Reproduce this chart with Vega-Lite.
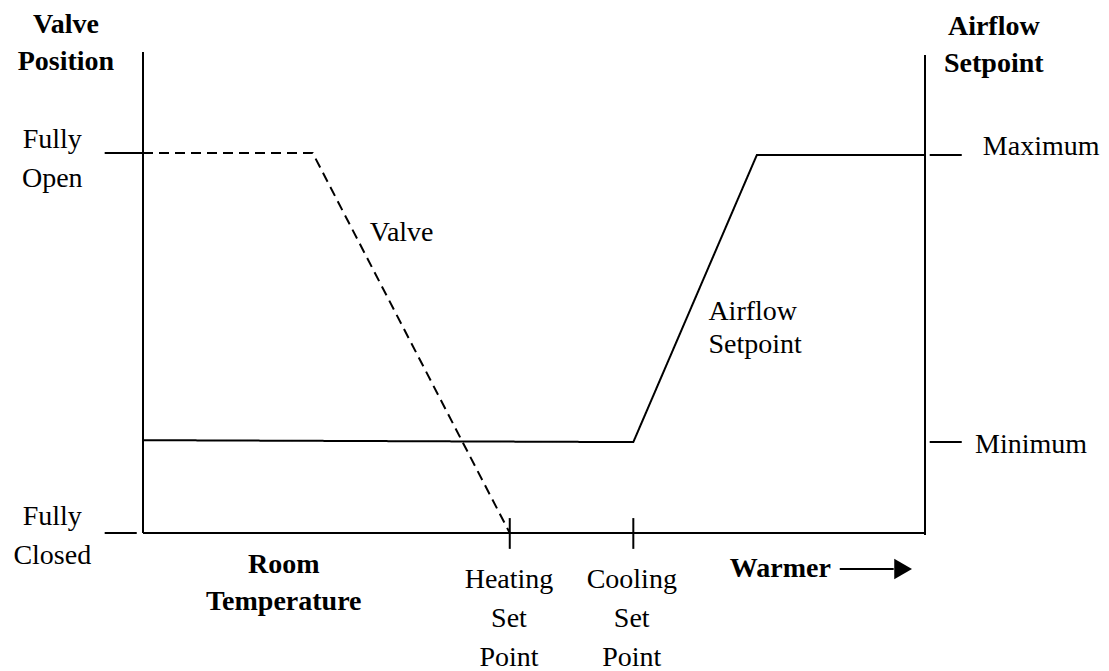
{
  "$schema": "https://vega.github.io/schema/vega-lite/v6.json",
  "width": 782,
  "height": 481,
  "autosize": {"type": "none"},
  "padding": {"left": 143, "top": 52, "right": 184, "bottom": 138},
  "background": "white",
  "config": {"view": {"stroke": null}},
  "datasets": {
    "rules": [
      {"part": "left axis", "x": 0, "y": 0, "x2": 0, "y2": 100},
      {"part": "right axis", "x": 100, "y": -0.4, "x2": 100, "y2": 99.4},
      {"part": "bottom axis", "x": 0, "y": 0, "x2": 100, "y2": 0},
      {"part": "fully open tick", "x": -4.9, "y": 79, "x2": 0, "y2": 79},
      {"part": "fully closed tick", "x": -4.9, "y": 0, "x2": -0.8, "y2": 0},
      {"part": "maximum tick", "x": 100.6, "y": 78.6, "x2": 104.7, "y2": 78.6},
      {"part": "minimum tick", "x": 100.6, "y": 18.9, "x2": 104.7, "y2": 18.9},
      {"part": "heating set point tick", "x": 46.9, "y": 3.1, "x2": 46.9, "y2": -3.3},
      {"part": "cooling set point tick", "x": 62.7, "y": 3.1, "x2": 62.7, "y2": -3.3},
      {"part": "warmer arrow", "x": 89.1, "y": -7.5, "x2": 96.0, "y2": -7.5}
    ],
    "curves": [
      {"series": "Valve", "order": 1, "temp": 0, "value": 79},
      {"series": "Valve", "order": 2, "temp": 21.7, "value": 79},
      {"series": "Valve", "order": 3, "temp": 46.9, "value": 0},
      {"series": "Airflow", "order": 1, "temp": 0, "value": 19.3},
      {"series": "Airflow", "order": 2, "temp": 62.7, "value": 18.9},
      {"series": "Airflow", "order": 3, "temp": 78.5, "value": 78.6},
      {"series": "Airflow", "order": 4, "temp": 100, "value": 78.6}
    ],
    "boldLabels": [
      {"label": "Valve\nPosition", "x": -9.85, "y": 105.6},
      {"label": "Airflow\nSetpoint", "x": 108.8, "y": 105.2},
      {"label": "Room\nTemperature", "x": 18.0, "y": -6.65},
      {"label": "Warmer", "x": 81.5, "y": -7.4}
    ],
    "centerLabels": [
      {"label": "Fully\nOpen", "x": -11.6, "y": 81.7},
      {"label": "Fully\nClosed", "x": -11.6, "y": 3.3},
      {"label": "Heating\nSet\nPoint", "x": 46.8, "y": -9.8},
      {"label": "Cooling\nSet\nPoint", "x": 62.5, "y": -9.8}
    ],
    "leftLabels": [
      {"label": "Maximum", "x": 107.4, "y": 80.2},
      {"label": "Minimum", "x": 106.4, "y": 18.2},
      {"label": "Valve", "x": 29.0, "y": 62.4},
      {"label": "Airflow\nSetpoint", "x": 72.3, "y": 45.9}
    ],
    "arrowhead": [
      {"x": 97.2, "y": -7.5}
    ]
  },
  "layer": [
    {
      "data": {"name": "rules"},
      "mark": {"type": "rule", "color": "black", "strokeWidth": 2, "clip": false},
      "encoding": {
        "x": {"field": "x", "type": "quantitative", "scale": {"domain": [0, 100], "nice": false, "zero": false}, "axis": null},
        "y": {"field": "y", "type": "quantitative", "scale": {"domain": [0, 100], "nice": false, "zero": false}, "axis": null},
        "x2": {"field": "x2"},
        "y2": {"field": "y2"}
      }
    },
    {
      "data": {"name": "curves"},
      "mark": {"type": "line", "color": "black", "strokeWidth": 2, "clip": false},
      "encoding": {
        "x": {"field": "temp", "type": "quantitative", "axis": null},
        "y": {"field": "value", "type": "quantitative", "axis": null},
        "detail": {"field": "series"},
        "order": {"field": "order"},
        "strokeDash": {"field": "series", "type": "nominal", "scale": {"domain": ["Valve", "Airflow"], "range": [[10, 6], [1, 0]]}, "legend": null}
      }
    },
    {
      "data": {"name": "arrowhead"},
      "mark": {"type": "point", "shape": "triangle-right", "filled": true, "color": "black", "opacity": 1, "size": 420, "clip": false},
      "encoding": {
        "x": {"field": "x", "type": "quantitative", "axis": null},
        "y": {"field": "y", "type": "quantitative", "axis": null}
      }
    },
    {
      "data": {"name": "boldLabels"},
      "mark": {"type": "text", "font": "Liberation Serif", "fontSize": 28, "fontWeight": "bold", "align": "center", "baseline": "middle", "lineBreak": "\n", "lineHeight": 37, "color": "black", "clip": false},
      "encoding": {
        "x": {"field": "x", "type": "quantitative", "axis": null},
        "y": {"field": "y", "type": "quantitative", "axis": null},
        "text": {"field": "label"}
      }
    },
    {
      "data": {"name": "centerLabels"},
      "mark": {"type": "text", "font": "Liberation Serif", "fontSize": 28, "align": "center", "baseline": "middle", "lineBreak": "\n", "lineHeight": 39, "color": "black", "clip": false},
      "encoding": {
        "x": {"field": "x", "type": "quantitative", "axis": null},
        "y": {"field": "y", "type": "quantitative", "axis": null},
        "text": {"field": "label"}
      }
    },
    {
      "data": {"name": "leftLabels"},
      "mark": {"type": "text", "font": "Liberation Serif", "fontSize": 28, "align": "left", "baseline": "middle", "lineBreak": "\n", "lineHeight": 33, "color": "black", "clip": false},
      "encoding": {
        "x": {"field": "x", "type": "quantitative", "axis": null},
        "y": {"field": "y", "type": "quantitative", "axis": null},
        "text": {"field": "label"}
      }
    }
  ]
}
